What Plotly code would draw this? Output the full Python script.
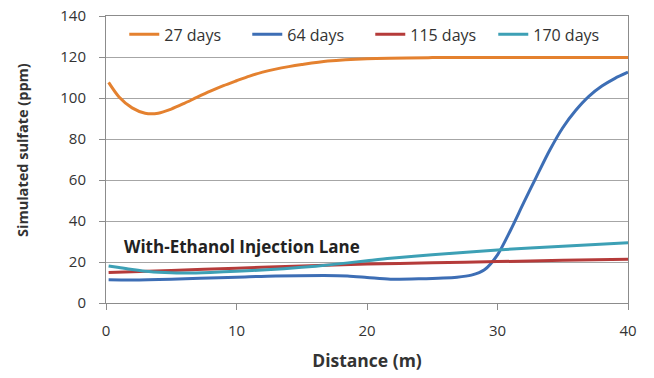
import plotly.graph_objects as go

x27 = [0.2, 1, 2, 3, 4, 5, 6, 7, 8, 9, 10, 11, 12, 13, 14, 15, 17, 20, 25, 30, 35, 40]
y27 = [107.6, 100.5, 95.2, 92.6, 92.6, 94.6, 97.4, 100.4, 103.3, 106.0, 108.4, 110.7, 112.6, 114.1, 115.3, 116.3, 118.0, 119.2, 119.7, 119.8, 119.8, 119.8]

x64 = [0.2, 2, 5, 7.2, 10, 13, 16.7, 18.5, 20, 21.8, 24, 26.9, 28, 29, 30, 31, 32, 33, 34, 35, 36, 37, 38, 39, 40]
y64 = [11.3, 11.2, 11.6, 12.1, 12.6, 13.2, 13.4, 13.2, 12.5, 11.6, 11.8, 12.6, 13.6, 16.2, 23.5, 35.5, 48.8, 61.8, 74.5, 85.5, 94.0, 100.8, 105.8, 109.6, 112.6]

x115 = [0.2, 5, 10, 15, 20, 25, 30, 35, 40]
y115 = [14.9, 15.9, 17, 18, 19, 19.6, 20.2, 20.8, 21.4]

x170 = [0.2, 1, 2, 3, 4.5, 6.1, 8, 10, 12.3, 15, 17.1, 20, 21.8, 25, 30, 35, 40]
y170 = [18.1, 17.3, 16.3, 15.5, 14.9, 14.6, 14.9, 15.5, 16.2, 17.4, 18.6, 20.6, 21.8, 23.5, 25.9, 27.7, 29.4]

series = [
    ("27 days", x27, y27, "#E4812F"),
    ("64 days", x64, y64, "#3D6EB5"),
    ("115 days", x115, y115, "#B53B3A"),
    ("170 days", x170, y170, "#3DA0B5"),
]

fig = go.Figure()
for name, xs, ys, col in series:
    fig.add_trace(go.Scatter(x=xs, y=ys, name=name, mode="lines",
                             line=dict(color=col, width=3, shape="spline", smoothing=0.8)))

font_family = "Open Sans, Liberation Sans, Arial, sans-serif"
fig.update_layout(
    width=654, height=378,
    margin=dict(l=106, r=26, t=16, b=75, autoexpand=False),
    paper_bgcolor="white", plot_bgcolor="white",
    font=dict(family=font_family, size=15, color="#333333"),
    legend=dict(orientation="h", x=0.035, y=0.995, xanchor="left", yanchor="top",
                bgcolor="rgba(255,255,255,0)", font=dict(size=16, color="#333333"),
                entrywidth=78, entrywidthmode="pixels", itemwidth=30),
    xaxis=dict(range=[0, 40], tickvals=[0, 10, 20, 30, 40], showgrid=False,
               showline=True, linecolor="#8c8c8c", linewidth=1, mirror=True,
               ticks="outside", ticklen=6, tickcolor="#8c8c8c", zeroline=False,
               ticklabelstandoff=8, automargin=False,
               title=dict(text="<b>Distance (m)</b>", font=dict(size=17.5, color="#333333"), standoff=15)),
    yaxis=dict(range=[0, 140], tickvals=[0, 20, 40, 60, 80, 100, 120, 140], showgrid=True,
               gridcolor="#a6a6a6", gridwidth=1,
               showline=True, linecolor="#8c8c8c", linewidth=1, mirror=True,
               ticks="outside", ticklen=6, tickcolor="#8c8c8c", zeroline=False,
               ticklabelstandoff=10, automargin=False),
    annotations=[
        dict(x=1.25, y=40 - 12.5, xref="x", yref="y", xanchor="left", yanchor="middle",
             text="<b>With-Ethanol Injection Lane</b>", showarrow=False,
             font=dict(size=17, color="#222222")),
        dict(x=-0.161, y=0.533, xref="paper", yref="paper", xanchor="center", yanchor="middle",
             text="<b>Simulated sulfate (ppm)</b>", showarrow=False, textangle=-90,
             font=dict(size=14.5, color="#333333")),
    ],
)

fig.write_html("out.html")
